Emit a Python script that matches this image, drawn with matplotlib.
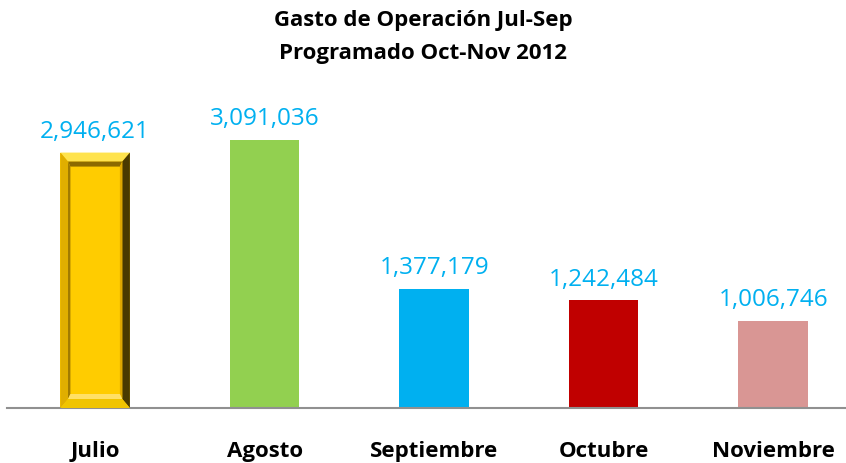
import matplotlib.pyplot as plt
from matplotlib.patches import Polygon

months = ["Julio", "Agosto", "Septiembre", "Octubre", "Noviembre"]
gasto = [2946621, 3091036, 1377179, 1242484, 1006746]
colors = ["#FFCC00", "#92D050", "#00B0F0", "#C00000", "#D99694"]

title = "Gasto de Operación Jul-Sep\nProgramado Oct-Nov 2012"

plt.rcParams["font.family"] = ["Open Sans", "DejaVu Sans"]

fig = plt.figure(figsize=(8.46, 4.64), dpi=100)
ax = fig.add_axes([7 / 846, 55 / 464, 839 / 846, 319 / 464])

x = range(len(months))
bars = ax.bar(x, gasto, width=0.41, color=colors, zorder=2)

ax.set_xlim(-0.52, 4.43)
ax.set_ylim(0, 3.68e6)

# bevel on the first bar (x in data units, y converted from pixels)
ppu_y = 319 / 3.68e6


def bevel(b, bx, by_px, shades):
    x0, w, h = b.get_x(), b.get_width(), b.get_height()
    by = by_px / ppu_y
    x1, y1 = x0 + w, h
    top = [(x0, y1), (x1, y1), (x1 - bx, y1 - by), (x0 + bx, y1 - by)]
    left = [(x0, 0), (x0, y1), (x0 + bx, y1 - by), (x0 + bx, by)]
    right = [(x1, 0), (x1, y1), (x1 - bx, y1 - by), (x1 - bx, by)]
    bottom = [(x0, 0), (x1, 0), (x1 - bx, by), (x0 + bx, by)]
    for pts, c in zip([top, left, right, bottom], shades):
        ax.add_patch(Polygon(pts, closed=True, facecolor=c, edgecolor="none", zorder=3))


b0 = bars[0]
bevel(b0, 0.045, 9, ["#FFE34D", "#E0AE00", "#4A3A00", "#F0C400"])
inner = ax.bar(0, b0.get_height() - 18 / ppu_y, bottom=9 / ppu_y, width=0.41 - 0.09,
               color="#FFCC00", zorder=4)[0]
# inner groove: darker top/left, lighter right/bottom
ix0, iw = inner.get_x(), inner.get_width()
iy0, ih = 9 / ppu_y, inner.get_height()
g = 0.014
gy = 5 / ppu_y
ax.add_patch(Polygon([(ix0, iy0 + ih), (ix0 + iw, iy0 + ih), (ix0 + iw - g, iy0 + ih - gy), (ix0 + g, iy0 + ih - gy)],
                     facecolor="#8C6A00", edgecolor="none", zorder=5))
ax.add_patch(Polygon([(ix0, iy0), (ix0, iy0 + ih), (ix0 + g, iy0 + ih - gy), (ix0 + g, iy0 + gy)],
                     facecolor="#A07A00", edgecolor="none", zorder=5))
ax.add_patch(Polygon([(ix0 + iw, iy0), (ix0 + iw, iy0 + ih), (ix0 + iw - g, iy0 + ih - gy), (ix0 + iw - g, iy0 + gy)],
                     facecolor="#E0A800", edgecolor="none", zorder=5))
ax.add_patch(Polygon([(ix0, iy0), (ix0 + iw, iy0), (ix0 + iw - g, iy0 + gy), (ix0 + g, iy0 + gy)],
                     facecolor="#FFE066", edgecolor="none", zorder=5))

for xi, v in zip(x, gasto):
    ax.annotate(f"{v:,}", (xi, v), xytext=(0, 7), textcoords="offset points",
                ha="center", va="bottom", color="#00B0F0", fontsize=17.5)

for s in ["top", "right", "left"]:
    ax.spines[s].set_visible(False)
ax.spines["bottom"].set_color("#909090")
ax.spines["bottom"].set_linewidth(1.5)
ax.set_yticks([])
ax.set_xticks(list(x))
ax.set_xticklabels(months, fontsize=16, fontweight="bold")
ax.tick_params(axis="x", length=0, pad=23)

fig.text(0.5, 0.978, title, ha="center", va="top", fontsize=16, fontweight="bold",
         linespacing=1.75)

fig.savefig("out.png", dpi=100)
